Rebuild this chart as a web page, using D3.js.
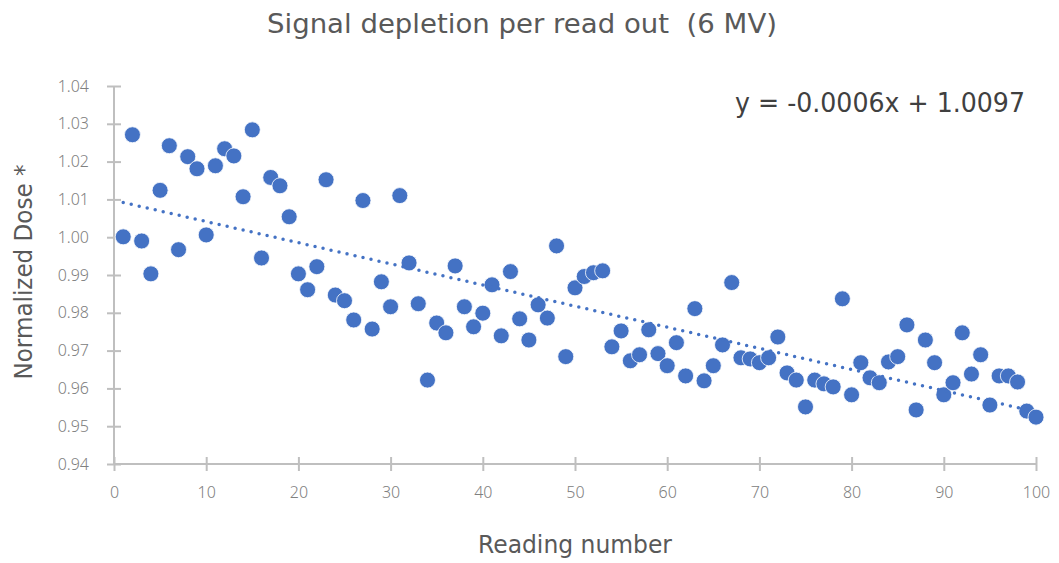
<!DOCTYPE html>
<html lang="en">
<head>
    <meta charset="utf-8">
    <title>Signal depletion</title>
    <script type="text/javascript" src="https://d3js.org/d3.v7.min.js"></script>
    <style type="text/css">
        body { margin: 0; background: #fff; }
        text { font-family: "DejaVu Sans", "Noto Sans", sans-serif; }
    </style>
</head>
<body>
<script type="text/javascript">

    // readings 1..100, normalized dose
    var readings = d3.range(1, 101);
    var doses = [
        1.0001, 1.0271, 0.9990, 0.9903, 1.0124, 1.0242, 0.9967, 1.0213, 1.0181, 1.0006,
        1.0189, 1.0234, 1.0215, 1.0107, 1.0284, 0.9945, 1.0158, 1.0136, 1.0054, 0.9903,
        0.9861, 0.9922, 1.0152, 0.9847, 0.9832, 0.9781, 1.0097, 0.9757, 0.9882, 0.9816,
        1.0110, 0.9932, 0.9824, 0.9622, 0.9773, 0.9747, 0.9924, 0.9816, 0.9763, 0.9799,
        0.9874, 0.9739, 0.9909, 0.9784, 0.9728, 0.9821, 0.9786, 0.9977, 0.9684, 0.9866,
        0.9896, 0.9906, 0.9911, 0.9710, 0.9752, 0.9673, 0.9689, 0.9755, 0.9692, 0.9660,
        0.9721, 0.9633, 0.9811, 0.9620, 0.9660, 0.9715, 0.9880, 0.9681, 0.9678, 0.9668,
        0.9681, 0.9736, 0.9641, 0.9622, 0.9551, 0.9622, 0.9612, 0.9604, 0.9837, 0.9583,
        0.9668, 0.9628, 0.9615, 0.9670, 0.9684, 0.9768, 0.9543, 0.9728, 0.9668, 0.9583,
        0.9615, 0.9747, 0.9638, 0.9689, 0.9556, 0.9633, 0.9633, 0.9617, 0.9540, 0.9524
    ];
    var xTicks = [0, 10, 20, 30, 40, 50, 60, 70, 80, 90, 100];
    var yTicks = [0.94, 0.95, 0.96, 0.97, 0.98, 0.99, 1.00, 1.01, 1.02, 1.03, 1.04];
    var titleText = "Signal depletion per read out\u00a0\u00a0(6 MV)";
    var equationText = "y = -0.0006x + 1.0097";

    var w = 1059;
    var h = 563;
    // plot box (note: "top" is taken by window.top)
    var plotL = 114, plotR = 1036, plotT = 86, plotB = 464;

    var xScale = d3.scaleLinear().domain([0, 100]).range([plotL, plotR]);
    var yScale = d3.scaleLinear().domain([0.94, 1.04]).range([plotB, plotT]);

    var data = readings.map(function(r, i) { return { x: r, y: doses[i] }; });

    // least squares trend
    var mx = d3.mean(data, d => d.x), my = d3.mean(data, d => d.y);
    var sxy = d3.sum(data, d => (d.x - mx) * (d.y - my));
    var sxx = d3.sum(data, d => (d.x - mx) * (d.x - mx));
    var slope = sxy / sxx, icpt = my - slope * mx;

    var svg = d3.select("body").append("svg")
        .attr("width", w)
        .attr("height", h);

    var axisColor = "#bfbfbf";

    //Y axis
    var yAxis = svg.append("g")
        .attr("transform", "translate(" + plotL + ",0)")
        .call(d3.axisLeft(yScale).tickValues(yTicks).tickFormat(d3.format(".2f")).tickSize(7).tickPadding(18));
    yAxis.select(".domain").attr("stroke", axisColor).attr("stroke-width", 2).attr("d", "M0," + plotT + "V" + plotB);
    yAxis.selectAll(".tick line").attr("stroke", axisColor).attr("stroke-width", 2).attr("x2", -7).attr("x1", 7);
    yAxis.selectAll(".tick text").attr("fill", "#808080").attr("font-size", 16)
        .style("font-family", "'Noto Sans', sans-serif").style("font-weight", 300);

    //X axis
    var xAxis = svg.append("g")
        .attr("transform", "translate(0," + plotB + ")")
        .call(d3.axisBottom(xScale).tickValues(xTicks).tickSize(7).tickPadding(16));
    xAxis.select(".domain").attr("stroke", axisColor).attr("stroke-width", 2).attr("d", "M" + plotL + ",0H" + plotR);
    xAxis.selectAll(".tick line").attr("stroke", axisColor).attr("stroke-width", 2).attr("y1", -7).attr("y2", 7);
    xAxis.selectAll(".tick text").attr("fill", "#808080").attr("font-size", 16)
        .style("font-family", "'Noto Sans', sans-serif").style("font-weight", 300);

    //Points
    svg.append("g").selectAll("circle")
        .data(data)
        .enter()
        .append("circle")
        .attr("cx", d => xScale(d.x))
        .attr("cy", d => yScale(d.y))
        .attr("r", 8)
        .attr("fill", "#4472c4")
        .attr("stroke", "#ffffff")
        .attr("stroke-width", 0.8);

    //Trend line
    svg.append("line")
        .attr("x1", xScale(1)).attr("y1", yScale(icpt + slope * 1))
        .attr("x2", xScale(100)).attr("y2", yScale(icpt + slope * 100))
        .attr("stroke", "#4472c4")
        .attr("stroke-width", 3.5)
        .attr("stroke-linecap", "round")
        .attr("stroke-dasharray", "0,8.2");

    //Texts
    svg.append("text")
        .attr("x", 522).attr("y", 33)
        .attr("text-anchor", "middle")
        .attr("font-size", 26)
        .attr("fill", "#595959")
        .attr("textLength", 510)
        .attr("lengthAdjust", "spacingAndGlyphs")
        .text(titleText);

    svg.append("text")
        .attr("x", 1025).attr("y", 112)
        .attr("text-anchor", "end")
        .attr("font-size", 27)
        .attr("fill", "#404040")
        .attr("textLength", 290)
        .attr("lengthAdjust", "spacingAndGlyphs")
        .text(equationText);

    svg.append("text")
        .attr("transform", "translate(32,272) rotate(-90)")
        .attr("text-anchor", "middle")
        .attr("font-size", 25)
        .attr("fill", "#595959")
        .attr("textLength", 215)
        .attr("lengthAdjust", "spacingAndGlyphs")
        .text("Normalized Dose *");

    svg.append("text")
        .attr("x", 575).attr("y", 553)
        .attr("text-anchor", "middle")
        .attr("font-size", 24)
        .attr("fill", "#595959")
        .attr("textLength", 194)
        .attr("lengthAdjust", "spacingAndGlyphs")
        .text("Reading number");

</script>
</body>
</html>
